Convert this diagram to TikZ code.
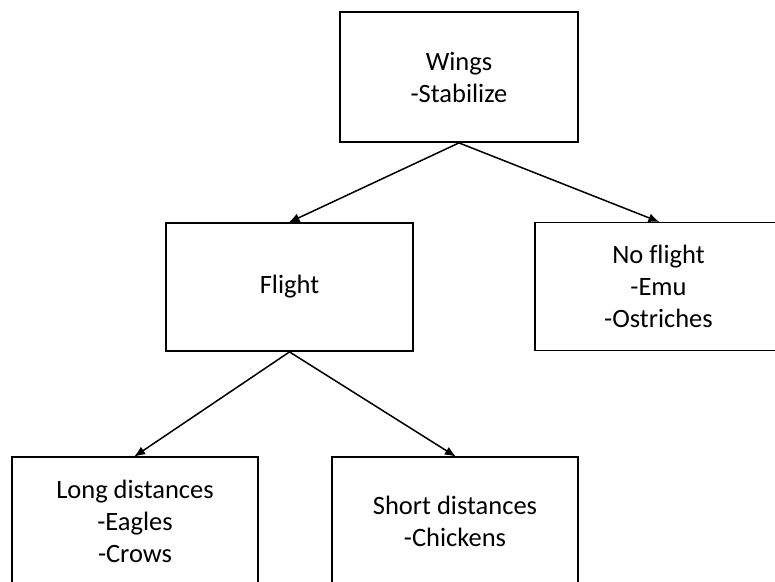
\documentclass[tikz,border=0pt]{standalone}
\usepackage{fontspec}
\setmainfont{Carlito}[Ligatures=NoCommon]
\usepackage{tikz}
\usetikzlibrary{arrows.meta}

\begin{document}
\begin{tikzpicture}[x=1pt, y=-1pt, >={Latex[length=11pt,width=9pt]},
    tbox/.style={draw, line width=1.8pt, minimum width=246pt, minimum height=128pt,
        align=center, inner sep=0pt, font=\fontsize{26.5}{32}\selectfont},
    link/.style={->, line width=1.5pt, shorten >=-1pt}]
    % =========================
    \useasboundingbox (0,0) rectangle (775,581);
    \clip (0,0) rectangle (775,581);

    \node[tbox, minimum width=238pt, minimum height=130pt] (wings) at (459,77) {Wings\\-Stabilize};
    \node[tbox, minimum width=247pt] (flight) at (289.5,287) {Flight};
    \node[tbox, minimum width=247pt] (noflight) at (658.5,286.5) {No flight\\-Emu\\-Ostriches};
    % ===============================
    \node[tbox] (long) at (135,521) {Long distances\\-Eagles\\-Crows};
    \node[tbox] (short) at (455,521) {Short distances\\-Chickens};

    \foreach \a/\b in {wings/flight, wings/noflight, flight/long, flight/short}
        \draw[link] (\a.south) -- (\b.north);
\end{tikzpicture}
\end{document}
